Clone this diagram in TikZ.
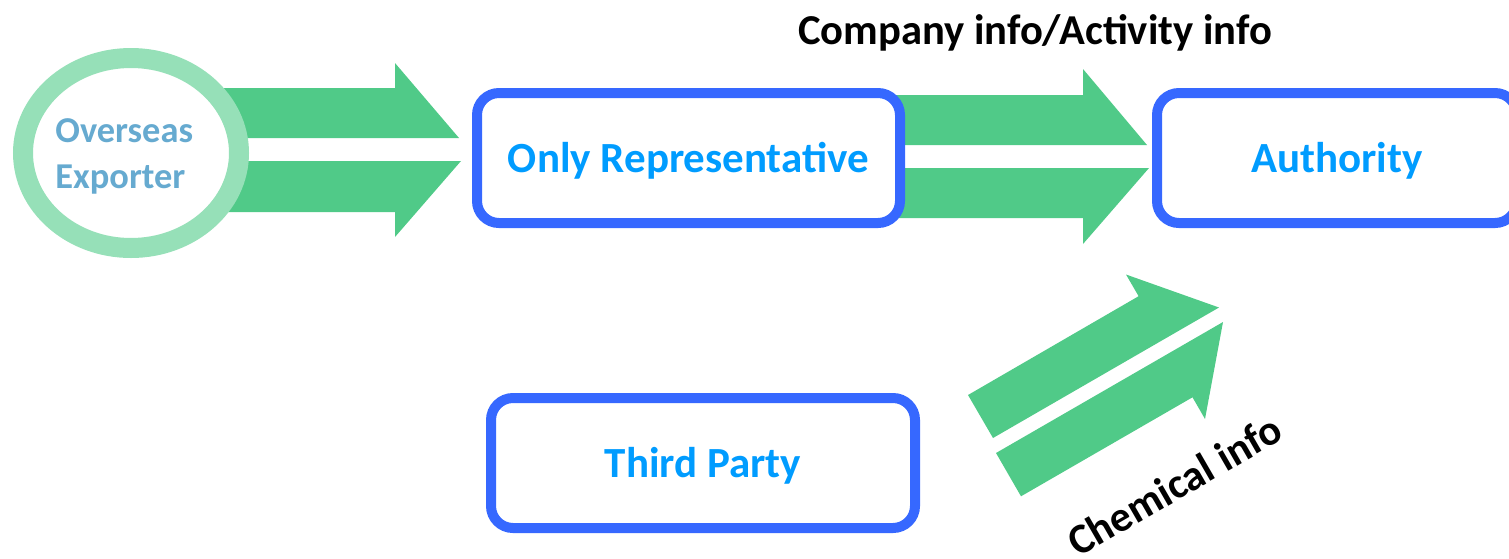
\documentclass[tikz,border=0pt]{standalone}
\usepackage{fontspec}
\setmainfont{Carlito}
\usetikzlibrary{shapes.geometric}
\definecolor{boxblue}{RGB}{54,104,255}
\definecolor{textblue}{RGB}{0,156,255}
\definecolor{arrowgreen}{RGB}{80,202,136}
\definecolor{ringgreen}{RGB}{150,224,184}
\definecolor{exptext}{RGB}{102,170,208}
\begin{document}
\begin{tikzpicture}[x=0.5pt,y=-0.5pt,
  blockarrow/.style={fill=arrowgreen, draw=none},
  roundbox/.style={draw=boxblue, line width=5pt, fill=white, rounded corners=11pt,
    minimum height=65pt, inner sep=0pt, text=textblue,
    font=\fontsize{21.5}{26}\selectfont\bfseries, text height=14.5pt, text depth=0pt},
  ring/.style={ellipse, draw=ringgreen, line width=10pt, fill=white, inner sep=0pt},
  ringtext/.style={text=exptext, inner sep=0pt, font=\fontsize{18.2}{22}\selectfont\bfseries},
  infolabel/.style={text=black, inner sep=0pt, font=\fontsize{21.3}{25}\selectfont\bfseries},
]
\clip (0,0) rectangle (1509,558);
% block arrows (drawn first, under the nodes)
\fill[blockarrow] (200,88) -- (395,88) -- (395,63) -- (459,138) -- (200,138) -- cycle;
\fill[blockarrow] (200,161) -- (461,161) -- (395,237) -- (395,212) -- (200,212) -- cycle;
\fill[blockarrow] (880,95) -- (1083,95) -- (1083,69) -- (1147,145) -- (880,145) -- cycle;
\fill[blockarrow] (880,168) -- (1149,168) -- (1083,244) -- (1083,218) -- (880,218) -- cycle;
\fill[blockarrow] (968,395) -- (1138.6,296.2) -- (1126,274.5) -- (1219,307.5) -- (993,438) -- cycle;
\fill[blockarrow] (996,453) -- (1223,322) -- (1205,419) -- (1192.5,397.3) -- (1021,496.3) -- cycle;
% nodes
\node[ring, minimum width=108pt, minimum height=95pt] (exp) at (131,153) {};
\node[ringtext, anchor=base west] (exp1) at (55,142) {Overseas};
\node[ringtext, anchor=base west] (exp2) at (55,188) {Exporter};
\node[roundbox, minimum width=211.5pt] (or) at (688.5,158) {Only Representative};
\node[roundbox, minimum width=180pt] (auth) at (1337,158) {Authority};
\node[roundbox, minimum width=212pt] (third) at (703,463) {Third Party};
% labels
\node[infolabel, anchor=base] (company) at (1035,44) {Company info/Activity info};
\node[infolabel, anchor=base, rotate=30] (chem) at (1182,498) {Chemical info};
\end{tikzpicture}
\end{document}
